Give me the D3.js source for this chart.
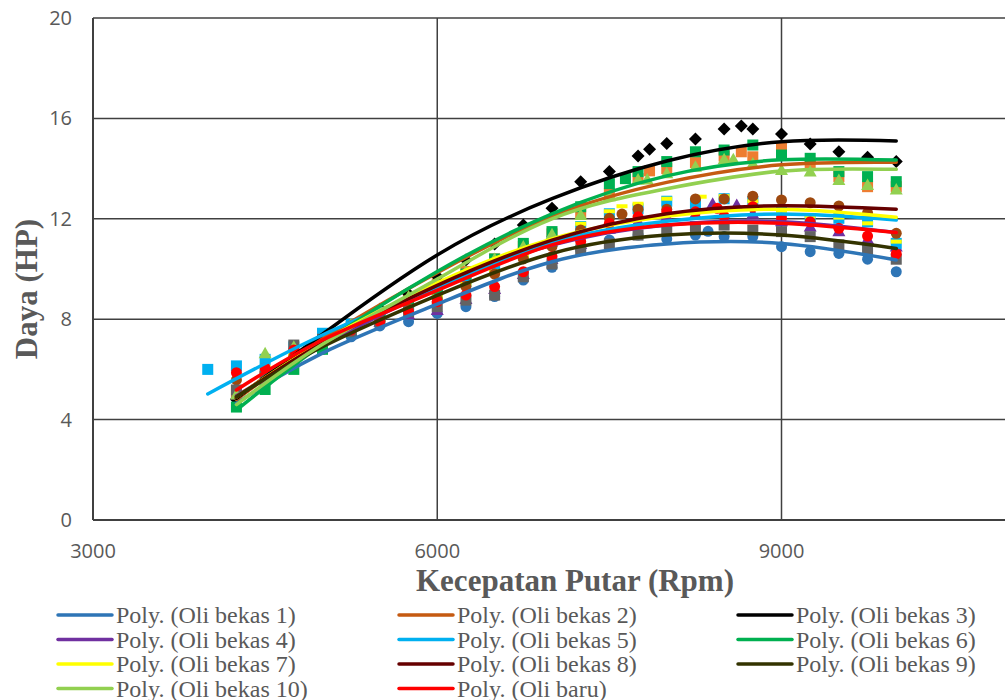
<!DOCTYPE html>
<html>
<head>
<meta charset="utf-8">
<script src="https://cdn.jsdelivr.net/npm/d3@7"></script>
<style>
  body { margin: 0; background: #fff; }
</style>
</head>
<body>
<div id="chart"></div>
<script>
// series names, colours and marker shapes
const seriesNames = ["Oli bekas 1", "Oli bekas 2", "Oli bekas 3", "Oli bekas 4", "Oli bekas 5",
  "Oli bekas 6", "Oli bekas 7", "Oli bekas 8", "Oli bekas 9", "Oli bekas 10", "Oli baru"];
const lineColors = ["#2E75B6", "#C55A11", "#000000", "#7030A0", "#00B0F0",
  "#00B050", "#FFFF00", "#660000", "#333300", "#92D050", "#FF0000"];
const markerColors = ["#2E75B6", "#ED7D31", "#000000", "#7030A0", "#00B0F0",
  "#00B050", "#FFFF00", "#9E480E", "#636363", "#92D050", "#FF0000"];
const markerShapes = ["circle", "square", "diamond", "triangle", "square",
  "square", "dash", "circle", "square", "triangle", "circle"];

// measured points [rpm, hp]
const oliBekas1 = [[4250,4.9],[4500,5.5],[4750,6.2],[5000,6.8],[5250,7.3],[5500,7.73],[5750,7.9],[6000,8.23],[6250,8.5],[6500,8.9],[6750,9.56],[7000,10.07],[7250,10.76],[7500,11.16],[7750,11.35],[8000,11.2],[8250,11.35],[8360,11.5],[8500,11.29],[8750,11.29],[9000,10.89],[9250,10.69],[9500,10.62],[9750,10.39],[10000,9.89]];
const oliBekas2 = [[4250,5.0],[4500,5.7],[4750,6.4],[5000,7.1],[5250,7.7],[5500,8.3],[5750,8.9],[6000,9.4],[6250,9.9],[6500,10.4],[6750,10.9],[7000,11.4],[7250,12.2],[7500,13.0],[7750,13.6],[7850,13.91],[8000,14.0],[8250,14.24],[8500,14.5],[8650,14.67],[8750,14.47],[9000,14.81],[9250,14.2],[9500,13.68],[9750,13.28],[10000,13.28]];
const oliBekas3 = [[4250,4.8],[4500,5.5],[4750,6.3],[5000,7.0],[5250,7.7],[5500,8.4],[5750,9.0],[6000,9.7],[6250,10.36],[6500,11.0],[6750,11.75],[7000,12.42],[7250,13.48],[7500,13.88],[7750,14.5],[7850,14.77],[8000,15.0],[8250,15.18],[8500,15.58],[8650,15.7],[8750,15.58],[9000,15.38],[9250,14.98],[9500,14.67],[9750,14.45],[10000,14.28]];
const oliBekas4 = [[4250,5.0],[4500,5.6],[4750,6.3],[5000,6.9],[5250,7.5],[5500,7.9],[5750,8.2],[6000,8.37],[6250,8.8],[6500,9.2],[6750,9.8],[7000,10.4],[7250,11.0],[7500,11.6],[7750,11.9],[8000,12.1],[8250,12.2],[8400,12.6],[8610,12.55],[8750,12.2],[9000,11.9],[9250,11.69],[9500,11.5],[9750,11.2],[10000,10.9]];
const oliBekas5 = [[4000,6.0],[4250,6.14],[4500,6.4],[4750,6.9],[5000,7.44],[5250,7.8],[5500,8.2],[5750,8.6],[6000,9.0],[6250,9.5],[6500,10.0],[6750,10.6],[7000,11.1],[7250,11.69],[7500,12.2],[7750,12.4],[8000,12.7],[8250,12.6],[8500,12.8],[8750,12.68],[9000,12.3],[9250,12.0],[9500,12.02],[9750,11.88],[10000,11.02]];
const oliBekas6 = [[4250,4.5],[4500,5.2],[4750,6.0],[5000,6.8],[5250,7.5],[5500,8.1],[5750,8.7],[6000,9.2],[6250,9.8],[6500,10.4],[6750,11.02],[7000,11.49],[7250,12.48],[7500,13.4],[7640,13.6],[7750,13.88],[8000,14.28],[8250,14.67],[8500,14.74],[8750,14.94],[9000,14.54],[9250,14.41],[9500,13.88],[9750,13.68],[10000,13.48]];
const oliBekas7 = [[4250,5.3],[4500,6.1],[4750,6.6],[5000,7.1],[5250,7.6],[5500,8.0],[5750,8.5],[6000,8.9],[6250,9.4],[6500,9.9],[6750,10.5],[7000,11.0],[7250,11.8],[7500,12.3],[7610,12.5],[7750,12.6],[8000,12.8],[8300,12.88],[8500,12.9],[8750,12.7],[9000,12.3],[9250,12.1],[9500,12.05],[9750,11.82],[10000,11.09]];
const oliBekas8 = [[4250,5.58],[4500,5.9],[4750,6.5],[5000,7.1],[5250,7.6],[5500,8.0],[5750,8.4],[6000,8.8],[6250,9.3],[6500,9.8],[6750,10.4],[7000,10.9],[7250,11.55],[7500,12.02],[7610,12.19],[7750,12.38],[8000,12.38],[8250,12.79],[8500,12.79],[8750,12.9],[9000,12.75],[9250,12.64],[9500,12.51],[9750,12.24],[10000,11.42]];
const oliBekas9 = [[4250,5.18],[4500,5.8],[4750,6.97],[5000,7.2],[5250,7.5],[5500,7.9],[5750,8.3],[6000,8.5],[6250,8.76],[6500,8.96],[6750,9.69],[7000,10.2],[7250,10.76],[7500,11.0],[7750,11.35],[8000,11.6],[8250,11.69],[8500,11.75],[8750,11.55],[9000,11.49],[9250,11.29],[9500,10.96],[9750,10.76],[10000,10.39]];
const oliBekas10 = [[4250,5.0],[4500,6.64],[4750,6.9],[5000,7.2],[5250,7.8],[5500,8.4],[5750,8.9],[6000,9.4],[6250,9.9],[6500,10.4],[6750,10.9],[7000,11.38],[7250,12.15],[7500,12.9],[7750,13.57],[7830,13.57],[8000,13.81],[8250,14.07],[8500,14.37],[8580,14.37],[8750,14.2],[9000,13.94],[9250,13.88],[9500,13.55],[9750,13.35],[10000,13.17]];
const oliBaru = [[4250,5.87],[4500,6.06],[4750,6.77],[5000,7.1],[5250,7.57],[5500,7.9],[5750,8.3],[6000,8.7],[6250,8.96],[6500,9.3],[6750,9.89],[7000,10.49],[7250,11.1],[7500,11.82],[7750,12.08],[8000,12.28],[8250,12.28],[8440,12.42],[8500,12.1],[8750,12.48],[9000,12.02],[9250,11.88],[9500,11.62],[9750,11.31],[10000,10.6]];

// trendline values
const trendRpm = [4250, 5000, 6000, 7000, 8000, 9000, 10000];
const trendRpm5 = [4000, 5000, 6000, 7000, 8000, 9000, 10000];
const trend1 = [4.65, 6.65, 8.6, 10.29, 11.0, 11.02, 10.36];
const trend2 = [4.8, 7.2, 9.85, 12.1, 13.45, 14.15, 14.25];
const trend3 = [4.85, 7.4, 10.56, 12.8, 14.3, 15.07, 15.1];
const trend4 = [4.95, 6.95, 9.25, 10.95, 11.75, 11.88, 11.45];
const trend5 = [5.02, 7.37, 9.3, 11.05, 11.9, 12.19, 11.95];
const trend6 = [4.38, 7.0, 9.9, 12.2, 13.71, 14.35, 14.34];
const trend7 = [4.9, 7.1, 9.45, 11.2, 12.1, 12.38, 12.06];
const trend8 = [4.9, 7.05, 9.35, 11.15, 12.2, 12.52, 12.38];
const trend9 = [4.91, 6.9, 8.95, 10.62, 11.35, 11.35, 10.82];
const trend10 = [4.6, 7.0, 9.6, 12.0, 13.2, 13.9, 13.97];
const trend11 = [5.18, 7.17, 9.15, 10.96, 11.75, 11.82, 11.45];

const xTicks = [3000, 6000, 9000];
const yTicks = [0, 4, 8, 12, 16, 20];

const points = [oliBekas1, oliBekas2, oliBekas3, oliBekas4, oliBekas5, oliBekas6,
  oliBekas7, oliBekas8, oliBekas9, oliBekas10, oliBaru];
const trends = [trend1, trend2, trend3, trend4, trend5, trend6, trend7, trend8, trend9, trend10, trend11];

const W = 1005, H = 700;
const svg = d3.select("#chart").append("svg")
  .attr("width", W).attr("height", H)
  .style("display", "block")
  .style("background", "#fff");

const x = d3.scaleLinear().domain([3000, 11000]).range([93, 1011]);
const y = d3.scaleLinear().domain([0, 20]).range([520, 18]);

const grid = svg.append("g");
yTicks.forEach(v => {
  grid.append("line")
    .attr("x1", x(3000)).attr("x2", W)
    .attr("y1", y(v)).attr("y2", y(v))
    .attr("stroke", "#404040")
    .attr("stroke-width", v === 0 ? 2 : 1.5);
});
xTicks.forEach(v => {
  grid.append("line")
    .attr("x1", x(v)).attr("x2", x(v))
    .attr("y1", y(0)).attr("y2", y(20))
    .attr("stroke", "#404040")
    .attr("stroke-width", v === 3000 ? 2 : 1.5);
});

const tickFont = "'Open Sans', sans-serif";
svg.append("g").selectAll("text")
  .data(yTicks).enter().append("text")
  .attr("x", 72).attr("y", d => y(d) + 7)
  .attr("text-anchor", "end")
  .style("font-family", tickFont).style("font-size", "20px")
  .style("fill", "#595959")
  .text(d => d);

svg.append("g").selectAll("text")
  .data(xTicks).enter().append("text")
  .attr("x", d => x(d)).attr("y", 558)
  .attr("text-anchor", "middle")
  .style("font-family", tickFont).style("font-size", "20px")
  .style("fill", "#595959")
  .text(d => d);

const serif = "'Liberation Serif', 'Times New Roman', serif";
svg.append("text")
  .attr("x", 575).attr("y", 591)
  .attr("text-anchor", "middle")
  .style("font-family", serif).style("font-size", "31px").style("font-weight", "700")
  .style("fill", "#595959")
  .text("Kecepatan Putar (Rpm)");

svg.append("text")
  .attr("transform", "translate(37,289) rotate(-90)")
  .attr("text-anchor", "middle")
  .style("font-family", serif).style("font-size", "31px").style("font-weight", "700")
  .style("fill", "#595959")
  .text("Daya (HP)");

// markers
const markG = svg.append("g");
points.forEach((pts, i) => {
  const col = markerColors[i];
  const shape = markerShapes[i];
  const g = markG.append("g");
  pts.forEach(([r, v]) => {
    const cx = x(r), cy = y(v);
    if (shape === "circle") {
      g.append("circle").attr("cx", cx).attr("cy", cy).attr("r", 5.5).attr("fill", col);
    } else if (shape === "square") {
      g.append("rect").attr("x", cx - 5.5).attr("y", cy - 5.5)
        .attr("width", 11).attr("height", 11).attr("fill", col);
    } else if (shape === "diamond") {
      g.append("path").attr("d", `M${cx},${cy - 6.5}L${cx + 6.5},${cy}L${cx},${cy + 6.5}L${cx - 6.5},${cy}Z`)
        .attr("fill", col);
    } else if (shape === "triangle") {
      g.append("path").attr("d", `M${cx},${cy - 6.5}L${cx + 6.5},${cy + 5}L${cx - 6.5},${cy + 5}Z`)
        .attr("fill", col);
    } else if (shape === "dash") {
      g.append("rect").attr("x", cx - 5.5).attr("y", cy - 2)
        .attr("width", 11).attr("height", 4).attr("fill", col);
    }
  });
});

// trendlines
const line = d3.line()
  .x(d => x(d[0]))
  .y(d => y(d[1]))
  .curve(d3.curveNatural);

const lineG = svg.append("g");
trends.forEach((t, i) => {
  const rpm = i === 4 ? trendRpm5 : trendRpm;
  lineG.append("path")
    .datum(rpm.map((r, k) => [r, t[k]]))
    .attr("d", line)
    .attr("fill", "none")
    .attr("stroke", lineColors[i])
    .attr("stroke-width", 3.5)
    .attr("stroke-linecap", "round");
});

// legend
const legCols = [58, 399, 738];
const legRows = [615, 639.5, 664, 688.5];
const leg = svg.append("g");
seriesNames.forEach((name, i) => {
  const cx = legCols[i % 3];
  const cy = legRows[Math.floor(i / 3)];
  leg.append("line")
    .attr("x1", cx).attr("x2", cx + 54)
    .attr("y1", cy).attr("y2", cy)
    .attr("stroke", lineColors[i])
    .attr("stroke-width", 3.5)
    .attr("stroke-linecap", "round");
  leg.append("text")
    .attr("x", cx + 58).attr("y", cy + 8)
    .style("font-family", serif).style("font-size", "24px")
    .style("fill", "#595959")
    .text(`Poly. (${name})`);
});
</script>
</body>
</html>
